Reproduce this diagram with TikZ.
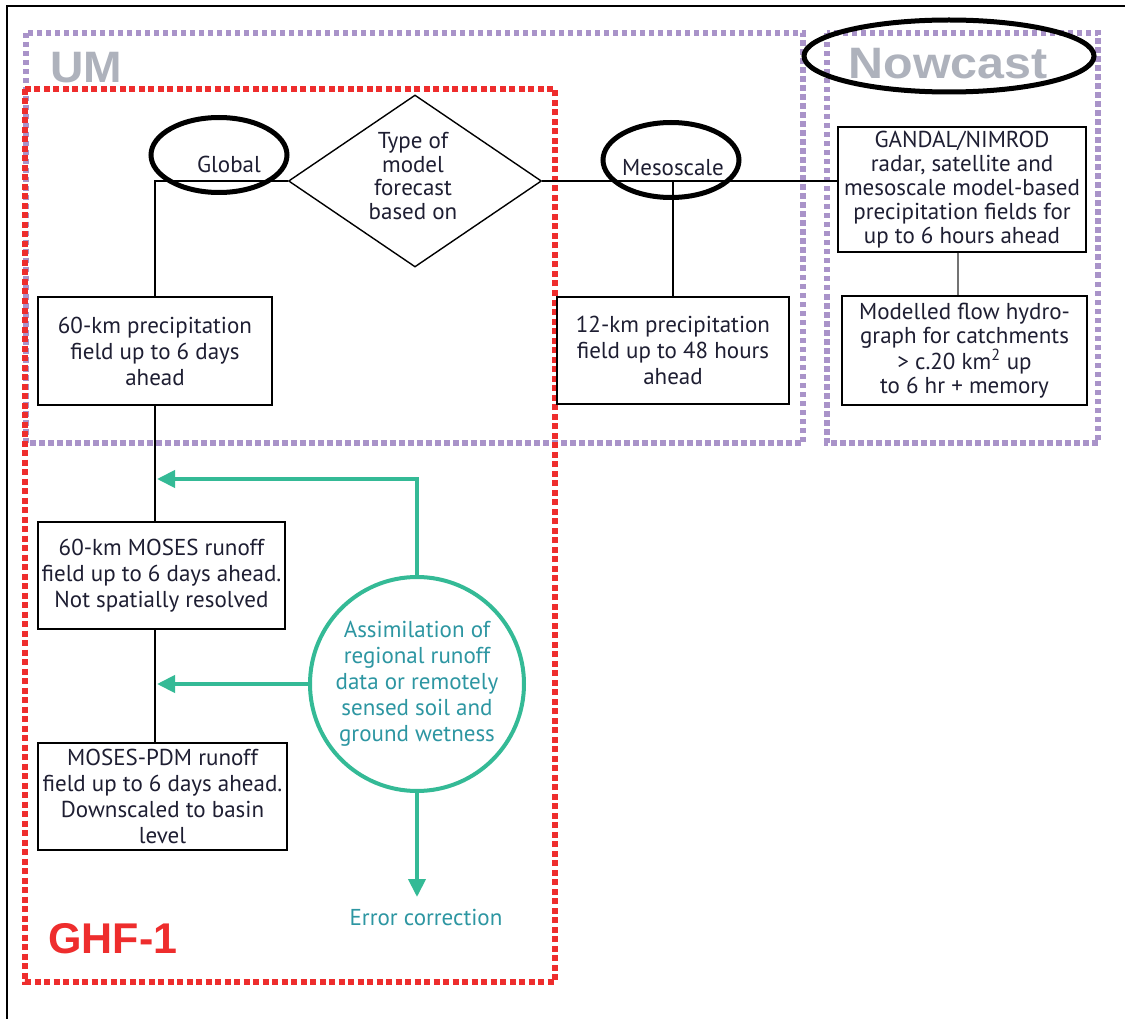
\documentclass[tikz,border=0pt]{standalone}
\usepackage{fontspec}
\setmainfont{PT Sans}
\newfontfamily\labelfont{Liberation Sans}
\usetikzlibrary{shapes.geometric,arrows.meta}

\definecolor{umpurple}{RGB}{169,147,201}
\definecolor{ghfred}{RGB}{238,45,45}
\definecolor{labelgray}{RGB}{174,178,188}
\definecolor{flowteal}{RGB}{52,186,150}
\definecolor{noteteal}{RGB}{45,150,162}
\definecolor{ink}{RGB}{30,30,50}

\tikzset{
  umframe/.style={draw=umpurple, line width=5.5pt, dash pattern=on 5.5pt off 3.5pt},
  ghfframe/.style={draw=ghfred, line width=6pt, dash pattern=on 6pt off 3.5pt},
  stagebox/.style={draw, line width=1.4pt, rectangle, inner sep=0pt, align=center,
    text=ink, font=\fontsize{23}{26}\selectfont},
  ring/.style={draw, line width=5pt, ellipse, inner sep=0pt},
  link/.style={line width=1.4pt},
  feed/.style={draw=flowteal, line width=4pt,
    -{Triangle[length=18pt,width=17pt]}},
  bigtag/.style={font=\labelfont\bfseries\fontsize{44}{44}\selectfont, text=labelgray, inner sep=0pt},
  word/.style={text=ink, font=\fontsize{23}{26}\selectfont, inner sep=0pt}
}

\begin{document}
\begin{tikzpicture}[x=1pt, y=-1pt]
\useasboundingbox (0,0) rectangle (1125,1019);
\fill[white] (0,0) rectangle (1125,1019);

% outer frame
\draw[line width=2pt] (1125,6) -- (7,6) -- (7,1019);

% dotted group frames
\draw[umframe] (26,33) rectangle (803,443);
\draw[umframe] (827,33) rectangle (1098,443);
\draw[ghfframe] (25,89) rectangle (555,982);

% group titles
\node[bigtag] (umtag) at (86,68) {\scalebox{1.05}[1]{UM}};
\node[bigtag] (nowtag) at (948,64) {\scalebox{1.1}[1]{Nowcast}};
\node[font=\labelfont\bfseries\fontsize{43}{43}\selectfont, text=ghfred, inner sep=0pt] (ghftag) at (113,939) {GHF-1};

% decision
\node[draw, line width=1.4pt, diamond, shape aspect=1.47, minimum width=253pt, minimum height=172pt,
      inner sep=0pt] (dia) at (415,181) {};
\node[align=center, text=ink, font=\fontsize{23}{23.5}\selectfont, inner sep=0pt] (diatxt) at (413,176)
      {Type of\\model\\forecast\\based on};

% left branch
\node[stagebox, minimum width=234pt, minimum height=108pt] (box1) at (155,351)
  {60-km precipitation\\field up to 6 days\\ahead};
\node[stagebox, minimum width=247pt, minimum height=107pt] (box2) at (161.5,575.5)
  {60-km MOSES runoff\\field up to 6 days ahead.\\Not spatially resolved};
\node[stagebox, minimum width=249pt, minimum height=107pt] (box3) at (162.5,796.5)
  {MOSES-PDM runoff\\field up to 6 days ahead.\\Downscaled to basin\\level};

% right branch
\node[stagebox, minimum width=232pt, minimum height=107pt] (box12) at (673,350.5)
  {12-km precipitation\\field up to 48 hours\\ahead};
\node[stagebox, minimum width=248pt, minimum height=125pt, font=\fontsize{23}{24}\selectfont] (gandal) at (962,189.5)
  {GANDAL/NIMROD\\radar, satellite and\\mesoscale model-based\\precipitation fields for\\up to 6 hours ahead};
\node[stagebox, minimum width=245pt, minimum height=109pt, font=\fontsize{23}{24}\selectfont] (model) at (964.5,350.5)
  {Modelled flow hydro-\\graph for catchments\\> c.20 km\textsuperscript{2} up\\to 6 hr + memory};

% connectors
\draw[link] (dia.west) -| (box1.north);
\draw[link] (box1.south) -- (box1.south |- box2.north);
\draw[link] (box1.south |- box2.south) -- (box1.south |- box3.north);
\draw[link] (dia.east) -- (dia.east -| gandal.west);
\draw[link] (box12.north |- dia.east) -- (box12.north);
\draw[line width=1.6pt, draw=black!55] ([xshift=-4pt]gandal.south) -- ([xshift=-4pt]gandal.south |- model.north);

% branch labels with rings
\node[word] (globaltxt) at (229,164) {Global};
\node[word] (mesotxt) at (673,168) {Mesoscale};
\node[ring, minimum width=136pt, minimum height=75pt] (globalring) at (219,155) {};
\node[ring, minimum width=136pt, minimum height=75pt] (mesoring) at (671,160) {};
\node[ring, minimum width=290pt, minimum height=72pt] (nowring) at (949,56) {};

% assimilation loop
\node[draw=flowteal, line width=4pt, circle, minimum size=214pt, inner sep=0pt, align=center,
      text=noteteal, font=\fontsize{23}{26}\selectfont] (assim) at (417,684)
  {Assimilation of\\regional runoff\\data or remotely\\sensed soil and\\ground wetness};
\coordinate (feedA) at (157,479);
\coordinate (feedB) at (157,684);
\coordinate (errtip) at (417,897);
\draw[feed] (assim.north) |- (feedA);
\draw[feed] (assim.west) -- (feedB);
\draw[feed] (assim.south) -- (errtip);
\node[text=noteteal, font=\fontsize{23}{26}\selectfont, inner sep=0pt] (errtxt) at (426,917) {Error correction};
\end{tikzpicture}
\end{document}
